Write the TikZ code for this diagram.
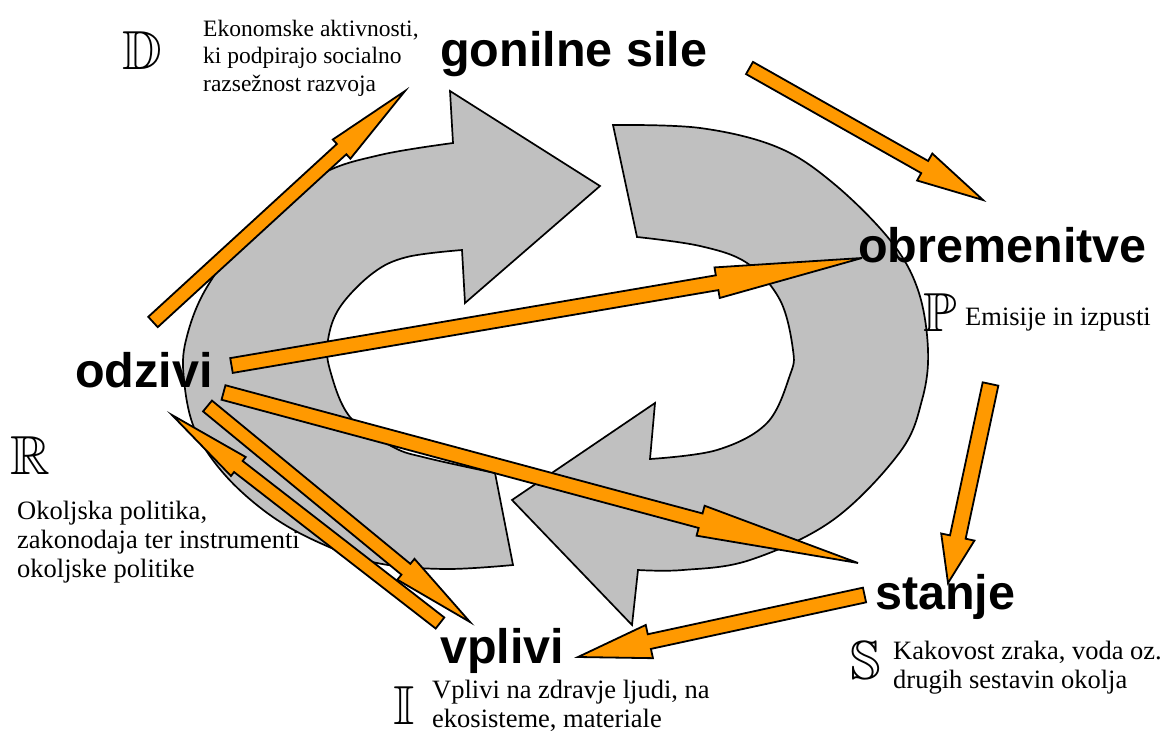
\documentclass[tikz,border=0pt]{standalone}
\usepackage{fontspec}
\usepackage{amssymb}
\setmainfont{Liberation Serif}
\newfontfamily\labelfont{Liberation Sans}
\usetikzlibrary{calc}

\definecolor{ringgray}{HTML}{C0C0C0}
\definecolor{flow}{HTML}{FF9900}

\tikzset{
  ring/.style={fill=ringgray, draw=black, line width=1.7pt, miter limit=6},
  flowbody/.style={fill=flow, draw=black, line width=1.8pt, miter limit=8},
  stage/.style={font=\labelfont\bfseries\fontsize{48.5}{50}\selectfont, inner sep=0pt, anchor=base west},
  note/.style={font=\fontsize{26.5}{29}\selectfont, align=left, inner sep=0pt, anchor=base west},
  initial/.style={font=\fontsize{55}{55}\selectfont, inner sep=0pt},
}

% block arrow: #1 tail, #2 tip, #3 half shaft width, #4 half head width, #5 head length
\newcommand\orangearrow[5]{%
  \coordinate (fa-b) at ($(#2)!#5!(#1)$);
  \path[flowbody]
    ($(#1)!#3!90:(#2)$) -- ($(fa-b)!#3!90:(#2)$) -- ($(fa-b)!#4!90:(#2)$)
    -- (#2)
    -- ($(fa-b)!#4!-90:(#2)$) -- ($(fa-b)!#3!-90:(#2)$) -- ($(#1)!#3!-90:(#2)$)
    -- cycle;
}

\begin{document}
\begin{tikzpicture}[x=1pt, y=-1pt]
  \fill[white] (0,0) rectangle (1164,731);
  \useasboundingbox (0,0) rectangle (1164,731);

  % left half of the cycle, pointing towards the driving forces
  \path[ring] (513,565) -- (495,473)
    -- plot[smooth, tension=0.6] coordinates {(495,473) (427,458) (393,447) (350,417) (330,370) (328,340) (340,307) (373,273) (407,257) (462,250)}
    -- (465,303) -- (600,186) -- (450,91) -- (453,143)
    -- plot[smooth, tension=0.6] coordinates {(453,143) (380,155) (320,175) (255,225) (207,287) (186,340) (184,380) (195,430) (225,475) (270,515) (320,543) (377,563) (445,569) (513,565)}
    -- cycle;

  % right half of the cycle, pointing back to the responses
  \path[ring] (613,125) -- (637,237)
    -- plot[smooth, tension=0.6] coordinates {(637,237) (700,246) (747,263) (780,300) (793,350) (790,375) (767,423) (717,450) (650,459)}
    -- (655,403) -- (512,500) -- (632,625) -- (638,570)
    -- plot[smooth, tension=0.6] coordinates {(638,570) (683,570) (750,560) (833,520) (900,452) (922,400) (928,350) (918,290) (890,240) (833,183) (777,147) (700,128) (613,125)}
    -- cycle;

  % arrow end points
  \coordinate (odz-d)  at (153,322);   \coordinate (d-in)   at (405,91);
  \coordinate (gon-o)  at (749.5,68);  \coordinate (obr-in) at (983,200);
  \coordinate (odz-p)  at (231.5,365.5); \coordinate (p-in) at (862,258);
  \coordinate (odz-s)  at (223.5,392.5); \coordinate (s-in) at (858,563);
  \coordinate (odz-i)  at (207.5,406); \coordinate (i-in)   at (470,622);
  \coordinate (vpl-r)  at (440,623);   \coordinate (r-in)   at (172,415);
  \coordinate (sta-i)  at (864.5,595); \coordinate (vpl-in) at (578,657);
  \coordinate (obr-s)  at (990.5,384); \coordinate (sta-in) at (948,583);

  \orangearrow{odz-d}{d-in}{7pt}{13pt}{86pt}
  \orangearrow{gon-o}{obr-in}{7pt}{15.5pt}{67pt}
  \orangearrow{odz-p}{p-in}{7.5pt}{15.5pt}{147pt}
  \orangearrow{odz-s}{s-in}{7.5pt}{15.5pt}{163pt}
  \orangearrow{odz-i}{i-in}{7pt}{13.5pt}{83pt}
  \orangearrow{vpl-r}{r-in}{7pt}{12pt}{84pt}
  \orangearrow{sta-i}{vpl-in}{7.5pt}{17pt}{73pt}
  \orangearrow{obr-s}{sta-in}{8pt}{17pt}{47pt}

  % stage names
  \node[stage] (gonilne) at (440,66) {gonilne sile};
  \node[stage] (obrem)   at (858,262) {obremenitve};
  \node[stage] (odzivi)  at (75,387) {odzivi};
  \node[stage] (stanje)  at (875,609) {stanje};
  \node[stage] (vplivi)  at (440,663) {vplivi};

  % initials
  \node[initial] (letD) at (142.5,50.5) {$\mathbb{D}$};
  \node[initial] (letP) at (940,312.5) {$\mathbb{P}$};
  \node[initial] (letR) at (30,456) {$\mathbb{R}$};
  \node[initial] (letS) at (865.5,661) {$\mathbb{S}$};
  \node[initial] (letI) at (404,705.5) {$\mathbb{I}$};

  % descriptions (positioned by the baseline of their last line)
  \node[note, font=\fontsize{23.5}{27.5}\selectfont] (noteD) at (203,91)
    {Ekonomske aktivnosti,\\ki podpirajo socialno\\razsežnost razvoja};
  \node[note] (noteP) at (965,325) {Emisije in izpusti};
  \node[note] (noteR) at (17,577)
    {Okoljska politika,\\zakonodaja ter instrumenti\\okoljske politike};
  \node[note] (noteS) at (893,688) {Kakovost zraka, voda oz.\\drugih sestavin okolja};
  \node[note] (noteI) at (432,727) {Vplivi na zdravje ljudi, na\\ekosisteme, materiale};
\end{tikzpicture}
\end{document}
